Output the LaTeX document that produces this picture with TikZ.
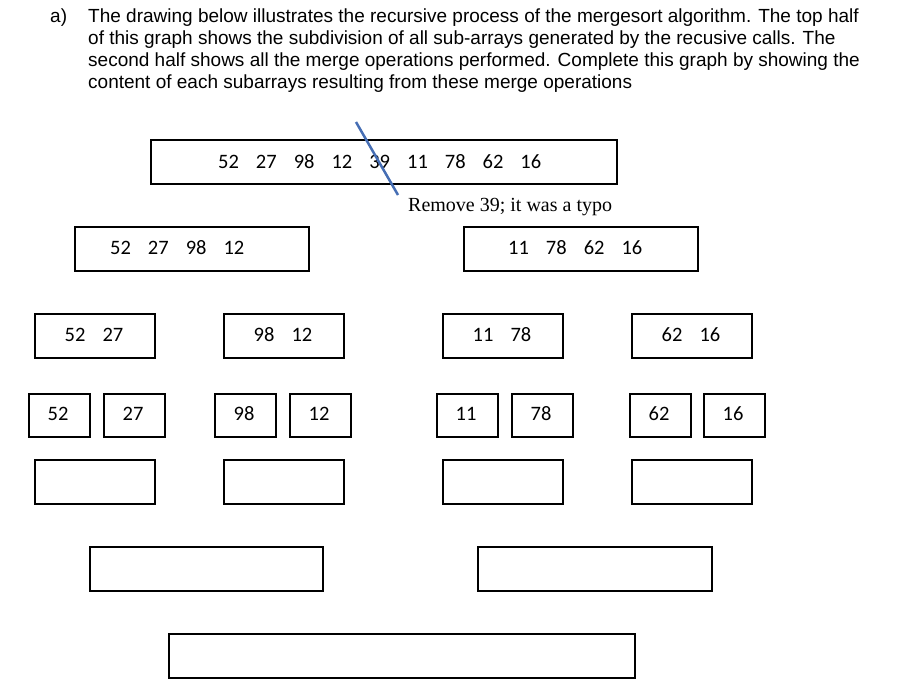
\documentclass[tikz,border=0pt]{standalone}
\usepackage{fontspec}
\setmainfont{Liberation Sans}
\newfontfamily\boxfont{Carlito}
\newfontfamily\serifx{Liberation Serif}
\newcommand{\gp}{\hspace{17pt}}
\begin{document}
\begin{tikzpicture}[x=1pt,y=-1pt,
  bx/.style={draw,line width=1.8pt,inner sep=0pt,anchor=north west},
  bt/.style={font=\boxfont\fontsize{20.5}{24}\selectfont},
  hd/.style={font=\fontsize{19}{22}\selectfont,anchor=west,inner sep=0pt}]
\useasboundingbox (0,0) rectangle (907,695);
\node[hd] (la) at (50,18) {a)};
\node[hd] (l1) at (88,18) {The drawing below illustrates the recursive process of the mergesort algorithm. The top half};
\node[hd] (l2) at (88,40) {of this graph shows the subdivision of all sub-arrays generated by the recusive calls. The};
\node[hd] (l3) at (88,62) {second half shows all the merge operations performed. Complete this graph by showing the};
\node[hd] (l4) at (88,84) {content of each subarrays resulting from these merge operations};
% level 1
\node[bx,minimum width=466pt,minimum height=44pt] (b1) at (150,139) {};
\node[bt,anchor=west,inner sep=0pt] (t1) at (218,162) {52\gp27\gp98\gp12\gp39\gp11\gp78\gp62\gp16};
\coordinate (s1) at (356,122); \coordinate (s2) at (398,195);
\draw[line width=2.5pt,color={rgb,255:red,70;green,110;blue,180}] (s1) -- (s2);
\node[font=\serifx\fontsize{20}{22}\selectfont,anchor=west,inner sep=0pt] (note) at (408,207) {Remove 39; it was a typo};
% level 2
\node[bx,minimum width=234pt,minimum height=44pt] (b21) at (74,226) {};
\node[bt,anchor=west,inner sep=0pt] at (110,248) {52\gp27\gp98\gp12};
\node[bx,minimum width=234pt,minimum height=44pt] (b22) at (463,226) {};
\node[bt,anchor=west,inner sep=0pt] at (508,248) {11\gp78\gp62\gp16};
% level 3
\foreach \x/\t/\n in {34/52\gp27/a,223/98\gp12/b,442/11\gp78/c,631/62\gp16/d}{
  \node[bx,minimum width=120pt,minimum height=44pt] (b3\n) at (\x,313) {};
  \node[bt] at (\x+60,335) {\t};
}
% level 4
\foreach \x/\t/\n in {28/52/a,103/27/b,214/98/c,289/12/d,436/11/e,511/78/f,629/62/g,703/16/h}{
  \node[bx,minimum width=61pt,minimum height=43pt] (b4\n) at (\x,393) {};
  \node[bt] at (\x+30,414) {\t};
}
% level 5
\foreach \x/\n in {34/a,223/b,442/c,631/d}{
  \node[bx,minimum width=120pt,minimum height=44pt] (b5\n) at (\x,459) {};
}
% level 6
\node[bx,minimum width=233pt,minimum height=44pt] (b61) at (89,546) {};
\node[bx,minimum width=234pt,minimum height=44pt] (b62) at (477,546) {};
% level 7
\node[bx,minimum width=466pt,minimum height=44pt] (b7) at (168,633) {};
\end{tikzpicture}
\end{document}
